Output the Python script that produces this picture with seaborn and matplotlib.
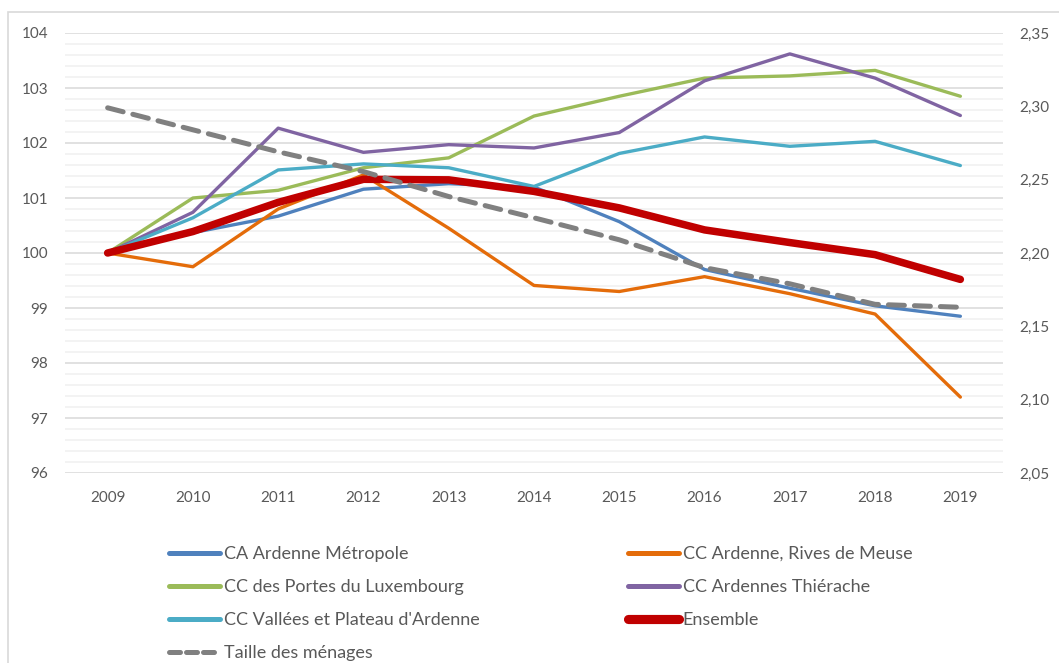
import matplotlib
matplotlib.use("Agg")
import matplotlib.pyplot as plt
from matplotlib.lines import Line2D
from matplotlib.patches import Rectangle
from matplotlib.ticker import MultipleLocator, FuncFormatter
import seaborn as sns
import pandas as pd

# Data (index base 100 in 2009)
years = [2009, 2010, 2011, 2012, 2013, 2014, 2015, 2016, 2017, 2018, 2019]
metropole = [100, 100.37, 100.67, 101.16, 101.26, 101.2, 100.57, 99.7, 99.36, 99.04, 98.85]
rives_meuse = [100, 99.75, 100.8, 101.42, 100.45, 99.41, 99.3, 99.57, 99.26, 98.89, 97.38]
portes_lux = [100, 101.0, 101.14, 101.55, 101.73, 102.49, 102.85, 103.18, 103.22, 103.32, 102.85]
thierache = [100, 100.74, 102.27, 101.83, 101.97, 101.91, 102.19, 103.13, 103.62, 103.18, 102.5]
vallees = [100, 100.64, 101.51, 101.62, 101.55, 101.21, 101.81, 102.11, 101.94, 102.03, 101.59]
ensemble = [100, 100.39, 100.92, 101.34, 101.33, 101.12, 100.82, 100.42, 100.19, 99.97, 99.52]
# household size, right axis
taille = [2.299, 2.284, 2.269, 2.2555, 2.2385, 2.224, 2.209, 2.19, 2.179, 2.165, 2.163]

labels = ["CA Ardenne Métropole", "CC Ardenne, Rives de Meuse",
          "CC des Portes du Luxembourg", "CC Ardennes Thiérache",
          "CC Vallées et Plateau d'Ardenne", "Ensemble", "Taille des ménages"]
colors = ["#4F81BD", "#E46C0A", "#9BBB59", "#8064A2", "#4BACC6", "#C00000", "#808080"]
widths = [2.4, 2.4, 2.4, 2.4, 2.4, 5.4, 3.6]

sns.set_style("white")
plt.rcParams["font.family"] = ["Lato", "DejaVu Sans"]
txt = "#595959"

W, H = 1059, 663
fig = plt.figure(figsize=(W / 100, H / 100), dpi=100)
ax = fig.add_axes([65 / W, 1 - 473 / H, (1003 - 65) / W, (473 - 33) / H])

left_series = [metropole, rives_meuse, portes_lux, thierache, vallees, ensemble]
for vals, lab, col, lw in zip(left_series, labels, colors, widths):
    df = pd.DataFrame({"annee": years, "indice": vals})
    sns.lineplot(data=df, x="annee", y="indice", color=col, linewidth=lw,
                 ax=ax, solid_capstyle="round", label=lab, legend=False)

ax.set_xlim(2008.5, 2019.5)
ax.set_ylim(96, 104)
ax.set_xticks(years)
ax.set_xticklabels([str(y) for y in years])
ax.yaxis.set_major_locator(MultipleLocator(1))
ax.yaxis.set_minor_locator(MultipleLocator(0.2))
ax.grid(axis="y", which="major", color="#D9D9D9", linewidth=1.1)
ax.grid(axis="y", which="minor", color="#F0F0F0", linewidth=1.1)
ax.grid(axis="x", visible=False)
ax.set_axisbelow(True)
ax.set_xlabel("")
ax.set_ylabel("")
ax.tick_params(axis="both", which="both", length=0, labelsize=11, colors=txt)
ax.tick_params(axis="y", pad=12)
ax.tick_params(axis="x", pad=13)
for s in ax.spines.values():
    s.set_visible(False)

ax2 = ax.twinx()
df2 = pd.DataFrame({"annee": years, "taille": taille})
sns.lineplot(data=df2, x="annee", y="taille", color=colors[6], linewidth=widths[6],
             ax=ax2, dashes=False, legend=False)
ax2.lines[0].set_dashes([3.2, 2.0])
ax2.lines[0].set_dash_capstyle("round")
ax2.set_ylim(2.05, 2.35)
ax2.yaxis.set_major_locator(MultipleLocator(0.05))
ax2.yaxis.set_major_formatter(FuncFormatter(lambda v, p: f"{v:.2f}".replace(".", ",")))
ax2.set_ylabel("")
ax2.grid(False)
ax2.tick_params(axis="y", length=0, labelsize=11, colors=txt, pad=12)
for s in ax2.spines.values():
    s.set_visible(False)

# legend, two columns filled row by row in the reference
handles = []
for col, lw in zip(colors[:6], widths[:6]):
    handles.append(Line2D([], [], color=col, linewidth=lw + 1.2, solid_capstyle="round"))
handles.append(Line2D([], [], color=colors[6], linewidth=widths[6],
                      dashes=[2.2, 1.2], dash_capstyle="round"))

col1 = [0, 2, 4, 6]
col2 = [1, 3, 5]
leg_kw = dict(frameon=False, fontsize=13, handlelength=2.8, handletextpad=0.22,
              labelspacing=0.95, labelcolor=txt, borderaxespad=0, borderpad=0)
fig.legend([handles[i] for i in col1], [labels[i] for i in col1],
           loc="upper left", bbox_to_anchor=(169 / W, 1 - 546 / H), **leg_kw)
fig.legend([handles[i] for i in col2], [labels[i] for i in col2],
           loc="upper left", bbox_to_anchor=(628 / W, 1 - 546 / H), **leg_kw)

# chart area border
fig.patches.append(Rectangle((8 / W, -0.1), 1.2, 1 - 12 / H + 0.1,
                             transform=fig.transFigure, fill=False,
                             edgecolor="#D9D9D9", linewidth=1.2))

fig.savefig("out.png", dpi=100)
